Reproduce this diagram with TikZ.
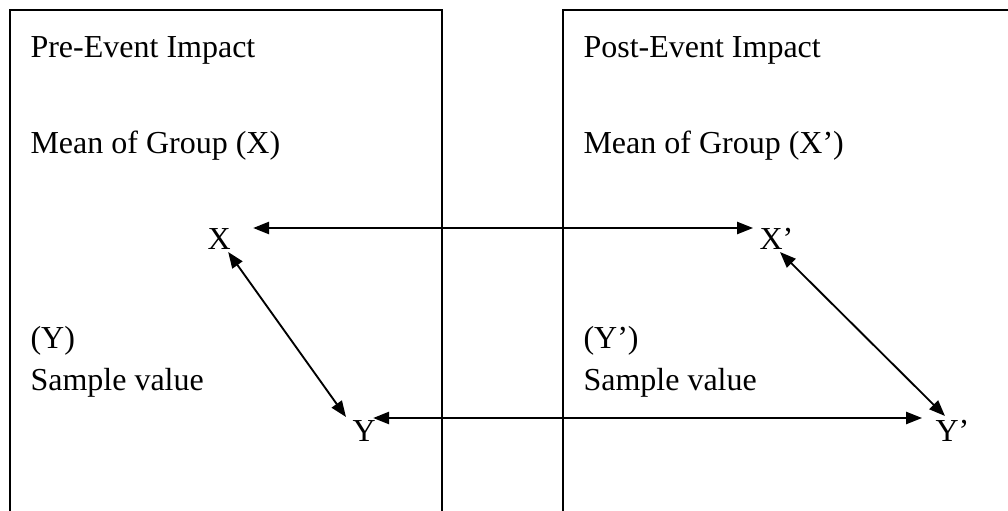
\documentclass[tikz,border=0pt]{standalone}
\usepackage{fontspec}
\setmainfont{Liberation Serif}
\usetikzlibrary{arrows.meta,calc}

\begin{document}
\begin{tikzpicture}[x=0.375pt,y=-0.375pt,
  box/.style={line width=0.8pt},
  lbl/.style={font=\fontsize{12}{14}\selectfont,anchor=base west,inner sep=0pt},
  pt/.style={lbl},
  link/.style={{Triangle[length=6pt,width=4.6pt]}-{Triangle[length=6pt,width=4.6pt]},line width=0.7pt}]
  \useasboundingbox (0,0) rectangle (1008,511);
  % Frames (open at the bottom)
  \draw[box] (10,511) -- (10,10) -- (442,10) -- (442,511);
  \draw[box] (563,511) -- (563,10) -- (1008,10);
  % Pre-event side
  \node[lbl] (pretitle) at (30,57) {Pre-Event Impact};
  \node[lbl] (premean) at (30,153) {Mean of Group (X)};
  \node[lbl] (presym) at (30,348) {(Y)};
  \node[lbl] (presample) at (30,390) {Sample value};
  % Post-event side
  \node[lbl] (posttitle) at (583,57) {Post-Event Impact};
  \node[lbl] (postmean) at (583,153) {Mean of Group (X’)};
  \node[lbl] (postsym) at (583,348) {(Y’)};
  \node[lbl] (postsample) at (583,390) {Sample value};
  % Points
  \node[pt] (X) at (207,249) {X};
  \node[pt] (Xp) at (759,249) {X’};
  \node[pt] (Y) at (352,441) {Y};
  \node[pt] (Yp) at (935,441) {Y’};
  % Links
  \draw[link] ($(X.base east)+(22,-21)$) -- ($(Xp.base west)+(-6,-21)$);
  \draw[link] ($(X.base east)+(-3,3)$) -- ($(Y.base west)+(-6,-24)$);
  \draw[link] ($(Y.base east)+(-3,-23)$) -- ($(Yp.base west)+(-13,-23)$);
  \draw[link] ($(Xp.base west)+(21,3)$) -- ($(Yp.base west)+(10,-25)$);
\end{tikzpicture}
\end{document}
